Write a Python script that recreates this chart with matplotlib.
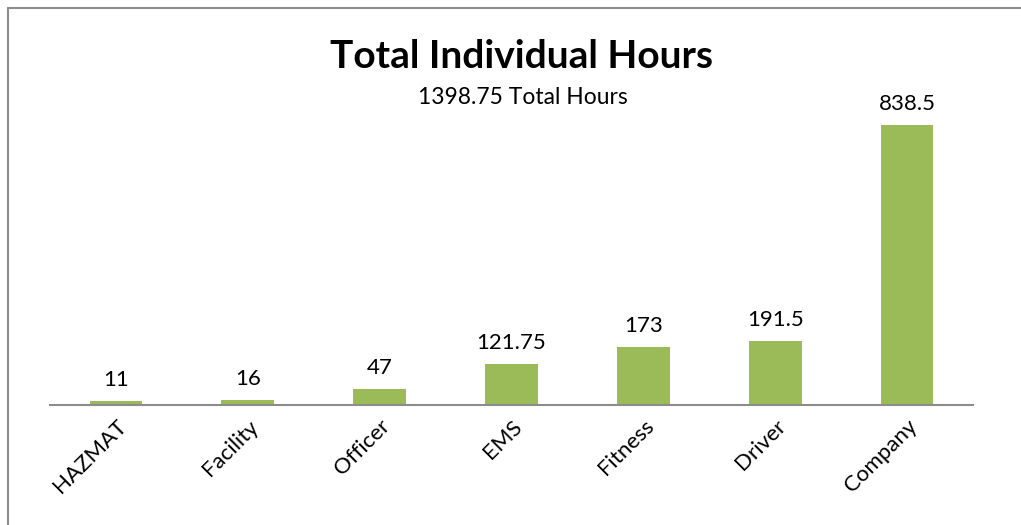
import matplotlib
matplotlib.use('Agg')
import matplotlib.pyplot as plt
from matplotlib.patches import Rectangle

plt.rcParams['font.family'] = ['Lato', 'DejaVu Sans']

categories = ["HAZMAT", "Facility", "Officer", "EMS", "Fitness", "Driver", "Company"]
hours = [11, 16, 47, 121.75, 173, 191.5, 838.5]
value_labels = ["11", "16", "47", "121.75", "173", "191.5", "838.5"]
title = "Total Individual Hours"
subtitle = "1398.75 Total Hours"

W, H = 1021, 525
fig = plt.figure(figsize=(W / 100, H / 100), dpi=100)

# outer chart border (only left and top show in the crop)
fig.patches.append(Rectangle((8 / W, -0.1), 1.2, (H - 8) / H + 0.1,
                             transform=fig.transFigure, fill=False,
                             edgecolor='#8c8c8c', linewidth=1.5))

ax = fig.add_axes([50 / W, (H - 405) / H, (973 - 50) / W, 300.6 / H])
x = range(len(categories))
ax.bar(x, hours, width=0.4, color='#9bbb59')
ax.set_xlim(-0.5, len(categories) - 0.5)
ax.set_ylim(0, 900)

for i, v in enumerate(hours):
    ax.annotate(value_labels[i], (i, v), xytext=(0, 8), textcoords='offset points',
                ha='center', va='bottom', fontsize=16)

for s in ['top', 'right', 'left']:
    ax.spines[s].set_visible(False)
ax.spines['bottom'].set_color('#8c8c8c')
ax.spines['bottom'].set_linewidth(1.5)
ax.set_yticks([])
ax.set_xticks(list(x))
ax.set_xticklabels(categories, rotation=45, ha='right', va='top',
                   rotation_mode='anchor', fontsize=16)
ax.tick_params(axis='x', length=0, pad=8)

fig.text(521 / W, 1 - 56 / H, title, ha='center', va='center',
         fontsize=28, fontweight='bold')
fig.text(523 / W, 1 - 98 / H, subtitle, ha='center', va='center', fontsize=16.5)

fig.savefig('out.png', dpi=100)
